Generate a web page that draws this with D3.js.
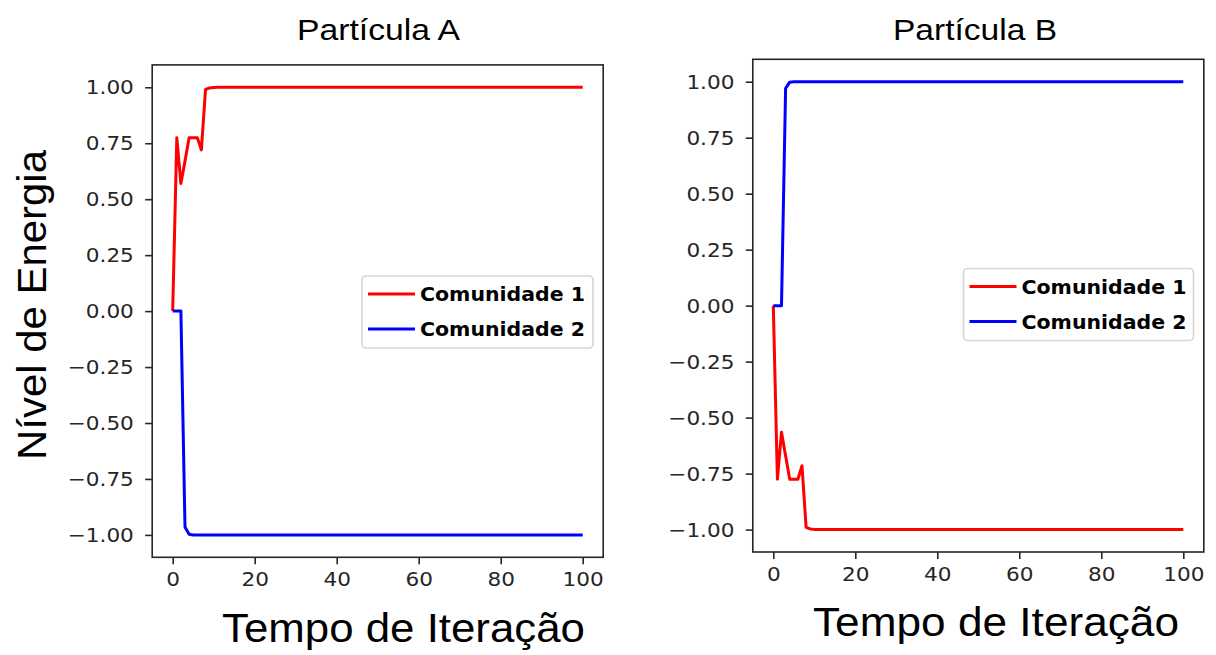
<!DOCTYPE html>
<html>
<head>
<meta charset="utf-8">
<script src="https://cdn.jsdelivr.net/npm/d3@7"></script>
<style>
  html, body { margin: 0; padding: 0; background: #fff; }
  svg { display: block; }
  .tick text { font-family: "DejaVu Sans", sans-serif; font-size: 20px; fill: #262626; }
  .tick line { stroke: #262626; stroke-width: 1.6; }
</style>
</head>
<body>
<svg id="chart" width="1216" height="655"></svg>
<script>
// Iteration steps (the curves are flat at their final level after step 11)
const iterations = [0, 1, 2, 3, 4, 5, 6, 7, 8, 9, 10, 11, 100];

// Partícula A
const particleA_comm1 = [0, 0.775, 0.57, 0.67, 0.775, 0.775, 0.775, 0.72, 0.99, 0.997, 0.999, 1.0, 1.0];
const particleA_comm2 = [0, 0, 0, -0.965, -0.997, -1.0, -1.0, -1.0, -1.0, -1.0, -1.0, -1.0, -1.0];

// Partícula B
const particleB_comm1 = [0, -0.775, -0.565, -0.67, -0.775, -0.775, -0.775, -0.715, -0.99, -0.997, -0.999, -1.0, -1.0];
const particleB_comm2 = [0, 0, 0, 0.97, 0.998, 1.0, 1.0, 1.0, 1.0, 1.0, 1.0, 1.0, 1.0];

const seriesNames = ["Comunidade 1", "Comunidade 2"];
const seriesColors = ["#ff0000", "#0000ff"];
const titles = ["Partícula A", "Partícula B"];
const xTicks = [0, 20, 40, 60, 80, 100];
const yTicks = [-1.0, -0.75, -0.5, -0.25, 0, 0.25, 0.5, 0.75, 1.0];
const xLabel = "Tempo de Iteração";
const yLabel = "Nível de Energia";

const svg = d3.select("#chart");
const SANS = "'Liberation Sans', Arial, sans-serif";
const TICK_STRETCH = 1.08;

const panels = [
  { title: titles[0], series: [particleA_comm1, particleA_comm2],
    left: 152.2, right: 603.2, top: 64.9, bottom: 557.3,
    titleX: 378.5, titleY: 40, titleW: 163, xLabelX: 403.5, xLabelY: 642, xLabelW: 363,
    legend: { x: 362, y: 276, w: 231, h: 72 } },
  { title: titles[1], series: [particleB_comm1, particleB_comm2],
    left: 752.8, right: 1203.8, top: 59.3, bottom: 552,
    titleX: 975, titleY: 40, titleW: 164, xLabelX: 996, xLabelY: 636, xLabelW: 366,
    legend: { x: 963.5, y: 268.5, w: 230, h: 72 } }
];

const fmt = v => d3.format(".2f")(v).replace("-", "\u2212");

panels.forEach(p => {
  const x = d3.scaleLinear().domain([-5, 105]).range([p.left, p.right]);
  const y = d3.scaleLinear().domain([-1.1, 1.1]).range([p.bottom, p.top]);
  const g = svg.append("g");

  // axes
  const yAxis = d3.axisLeft(y).tickValues(yTicks).tickSize(7).tickPadding(10).tickFormat(fmt);
  const xAxis = d3.axisBottom(x).tickValues(xTicks).tickSize(7).tickPadding(8).tickFormat(d3.format("d"));
  g.append("g").attr("transform", `translate(${p.left},0)`).call(yAxis)
    .call(a => a.select(".domain").remove())
    .call(a => a.selectAll(".tick text").attr("transform", `scale(${TICK_STRETCH},1)`));
  g.append("g").attr("transform", `translate(0,${p.bottom})`).call(xAxis)
    .call(a => a.select(".domain").remove())
    .call(a => a.selectAll(".tick text").attr("transform", `scale(${TICK_STRETCH},1)`));

  // lines
  const line = d3.line().x((d, i) => x(iterations[i])).y(d => y(d));
  p.series.forEach((s, k) => {
    g.append("path").datum(s)
      .attr("d", line)
      .attr("fill", "none")
      .attr("stroke", seriesColors[k])
      .attr("stroke-width", 3)
      .attr("stroke-linejoin", "round");
  });

  // frame
  g.append("rect")
    .attr("x", p.left).attr("y", p.top)
    .attr("width", p.right - p.left).attr("height", p.bottom - p.top)
    .attr("fill", "none").attr("stroke", "#262626").attr("stroke-width", 1.6);

  // title
  g.append("text").attr("x", p.titleX).attr("y", p.titleY)
    .attr("text-anchor", "middle")
    .attr("textLength", p.titleW).attr("lengthAdjust", "spacingAndGlyphs")
    .style("font-family", SANS)
    .style("font-size", "29px")
    .text(p.title);

  // x label
  g.append("text").attr("x", p.xLabelX).attr("y", p.xLabelY)
    .attr("text-anchor", "middle")
    .attr("textLength", p.xLabelW).attr("lengthAdjust", "spacingAndGlyphs")
    .style("font-family", SANS)
    .style("font-size", "40px")
    .text(xLabel);

  // legend
  const L = p.legend;
  const lg = g.append("g");
  lg.append("rect").attr("x", L.x).attr("y", L.y).attr("width", L.w).attr("height", L.h)
    .attr("rx", 4).attr("fill", "#fff").attr("fill-opacity", 0.8)
    .attr("stroke", "#d6d6d6").attr("stroke-width", 1.6);
  seriesNames.forEach((name, k) => {
    const ly = L.y + 18 + k * 35;
    lg.append("line").attr("x1", L.x + 6).attr("x2", L.x + 53)
      .attr("y1", ly).attr("y2", ly)
      .attr("stroke", seriesColors[k]).attr("stroke-width", 3);
    lg.append("text").attr("x", L.x + 58).attr("y", ly + 7)
      .attr("textLength", 165).attr("lengthAdjust", "spacingAndGlyphs")
      .style("font-family", "'DejaVu Sans', sans-serif")
      .style("font-weight", "bold")
      .style("font-size", "19.5px")
      .attr("fill", "#000")
      .text(name);
  });
});

// shared y label
svg.append("text")
  .attr("transform", "translate(46,305) rotate(-90)")
  .attr("text-anchor", "middle")
  .attr("textLength", 310).attr("lengthAdjust", "spacingAndGlyphs")
  .style("font-family", SANS)
  .style("font-size", "40px")
  .text(yLabel);
</script>
</body>
</html>
